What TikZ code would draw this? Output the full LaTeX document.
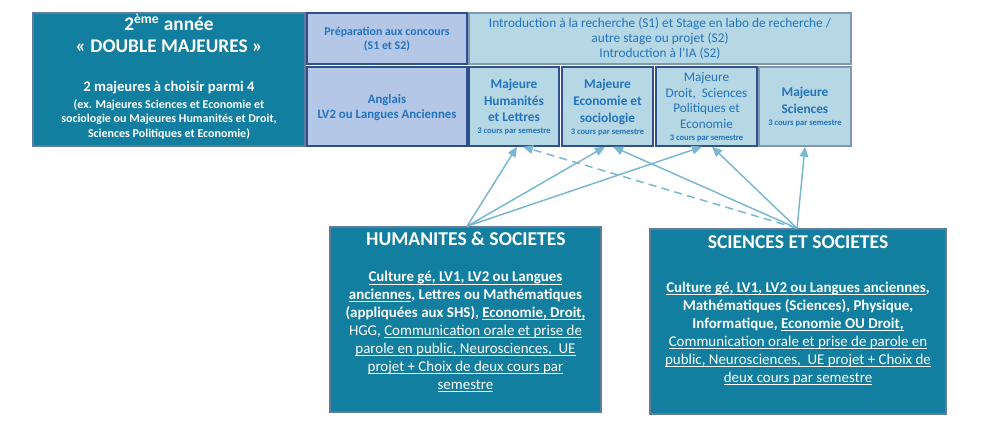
\documentclass[tikz,border=0pt]{standalone}
\usepackage{fontspec}
\setmainfont{Carlito}
\newcommand\myul[1]{\setbox0\hbox{#1}\rlap{\rule[-1.9pt]{\wd0}{0.6pt}}\box0}
\usetikzlibrary{arrows.meta,calc}
\definecolor{tealbox}{RGB}{18,126,160}
\definecolor{tealedge}{RGB}{95,125,155}
\definecolor{peri}{RGB}{180,199,231}
\definecolor{periedge}{RGB}{47,80,143}
\definecolor{lblue}{RGB}{182,215,228}
\definecolor{navyedge}{RGB}{47,82,143}
\definecolor{grayedge}{RGB}{132,151,176}
\definecolor{txtblue}{RGB}{35,115,190}
\definecolor{arrowcol}{RGB}{120,182,210}
\begin{document}
\begin{tikzpicture}[x=0.75pt,y=-0.75pt,
  box/.style={rectangle, inner sep=0pt, line width=1.1pt},
  tealstyle/.style={box, fill=tealbox, draw=tealedge},
  peristyle/.style={box, fill=peri, draw=periedge},
  lbstyle/.style={box, fill=lblue, draw=navyedge},
  lbgray/.style={box, fill=lblue, draw=grayedge},
  bluetxt/.style={text=txtblue, font=\bfseries, align=center, inner sep=0pt, anchor=base},
  whitetxt/.style={text=white, font=\bfseries, align=center, inner sep=0pt, anchor=base},
  link/.style={draw=arrowcol, line width=1.1pt, -{Triangle[length=7.5pt,width=6.5pt]}},
  dashlink/.style={link, dash pattern=on 6pt off 4pt}
]
\useasboundingbox (0,0) rectangle (1000,426);

% boxes
\node[tealstyle, minimum width=204pt, minimum height=99.75pt] (left) at (169,79.5) {};
\node[peristyle, minimum width=120pt, minimum height=38.25pt] (prepa) at (387,38.5) {};
\node[lbgray, minimum width=286.5pt, minimum height=38.25pt] (intro) at (660,38.5) {};
\node[peristyle, minimum width=120pt, minimum height=59.25pt] (angl) at (387,106.5) {};
\node[lbstyle, minimum width=67.5pt, minimum height=59.25pt] (hum) at (514,106.5) {};
\node[lbstyle, minimum width=68.25pt, minimum height=59.25pt] (eco) at (607.5,106.5) {};
\node[lbstyle, minimum width=75.75pt, minimum height=59.25pt] (droit) at (706.5,106.5) {};
\node[lbgray, minimum width=69pt, minimum height=59.25pt] (sci) at (805,106.5) {};
\node[tealstyle, minimum width=203.25pt, minimum height=138.75pt] (hs) at (465.5,319.5) {};
\node[tealstyle, minimum width=222pt, minimum height=138.75pt] (ss) at (798,321.5) {};

% left box text (anchor base = last line)
\node[whitetxt, font=\bfseries\fontsize{14.5}{16.5}\selectfont] (lt1) at (169,52) {2\textsuperscript{ème} année\\« DOUBLE MAJEURES »};
\node[whitetxt, font=\bfseries\fontsize{11}{12}\selectfont] (lt2) at (169,91.5) {2 majeures à choisir parmi 4};
\node[whitetxt, font=\bfseries\fontsize{9}{10.9}\selectfont] (lt3) at (169,137.5) {(ex. Majeures Sciences et Economie et\\sociologie ou Majeures Humanités et Droit,\\Sciences Politiques et Economie)};

% top row text
\node[bluetxt, font=\bfseries\fontsize{8.9}{10.5}\selectfont] (prepa-t) at (387,49) {Préparation aux concours\\(S1 et S2)};
\node[bluetxt, font=\fontsize{10}{11.25}\selectfont] (intro-t) at (660,57.5) {Introduction à la recherche (S1) et Stage en labo de recherche /\\autre stage ou projet (S2)\\Introduction à l’IA (S2)};
\node[bluetxt, font=\bfseries\fontsize{9.6}{11.25}\selectfont] (angl-t) at (387,118) {Anglais\\LV2 ou Langues Anciennes};

% majeures
\node[bluetxt, font=\bfseries\fontsize{10}{12.5}\selectfont] (hum-t) at (514,121.7) {Majeure\\Humanités\\et Lettres};
\node[bluetxt, font=\bfseries\fontsize{6.4}{7}\selectfont] (hum-s) at (514,133.5) {3 cours par semestre};
\node[bluetxt, font=\bfseries\fontsize{10}{12.5}\selectfont] (eco-t) at (607.5,122) {Majeure\\Economie et\\sociologie};
\node[bluetxt, font=\bfseries\fontsize{6.4}{7}\selectfont] (eco-s) at (607.5,134) {3 cours par semestre};
\node[bluetxt, font=\fontsize{9.9}{11.6}\selectfont] (droit-t) at (706.5,128) {Majeure\\Droit,~ Sciences\\Politiques et\\Economie};
\node[bluetxt, font=\bfseries\fontsize{6.4}{7}\selectfont] (droit-s) at (706.5,140) {3 cours par semestre};
\node[bluetxt, font=\bfseries\fontsize{10}{12.5}\selectfont] (sci-t) at (805,113.5) {Majeure\\Sciences};
\node[bluetxt, font=\bfseries\fontsize{6.4}{7}\selectfont] (sci-s) at (805,125.7) {3 cours par semestre};

% bottom boxes text
\node[whitetxt, font=\bfseries\fontsize{14.7}{15}\selectfont] (hs-t) at (465.8,245) {HUMANITES \& SOCIETES};
\node[whitetxt, font=\bfseries\fontsize{11.2}{13.4}\selectfont] (hs-b) at (465.5,389) {%
\myul{Culture gé, LV1, LV2 ou Langues}\\
\myul{anciennes}, Lettres ou Mathématiques\\
(appliquées aux SHS), \myul{Economie, Droit,}\\
\mdseries HGG, \myul{Communication orale et prise de}\\
\mdseries\myul{parole en public, Neurosciences,~ UE}\\
\mdseries\myul{projet + Choix de deux cours par}\\
\mdseries\myul{semestre}};

\node[whitetxt, font=\bfseries\fontsize{14.7}{15}\selectfont] (ss-t) at (798,248) {SCIENCES ET SOCIETES};
\node[whitetxt, font=\bfseries\fontsize{11.2}{13.5}\selectfont] (ss-b) at (798,382) {%
\myul{Culture gé, LV1, LV2 ou Langues anciennes},\\
Mathématiques (Sciences), Physique,\\
Informatique, \myul{Economie OU Droit,}\\
\mdseries\myul{Communication orale et prise de parole en}\\
\mdseries\myul{public, Neurosciences,~ UE projet + Choix de}\\
\mdseries\myul{deux cours par semestre}};

% arrows
\coordinate (hs-src) at ($(hs.north)+(1.5,0)$);
\coordinate (ss-src) at ($(ss.north)+(-1,0)$);
\draw[link] (hs-src) -- ($(hum.south)+(3,0)$);
\draw[link] (hs-src) -- ($(eco.south)+(-2.5,0)$);
\draw[link] (hs-src) -- ($(droit.south)+(-4.5,0)$);
\draw[link] (ss-src) -- ($(eco.south)+(5.5,0)$);
\draw[link] (ss-src) -- ($(droit.south)+(5.5,0)$);
\draw[link] (ss-src) -- (sci.south);
\draw[dashlink] (ss-src) -- ($(hum.south)+(9,0)$);
\end{tikzpicture}
\end{document}
